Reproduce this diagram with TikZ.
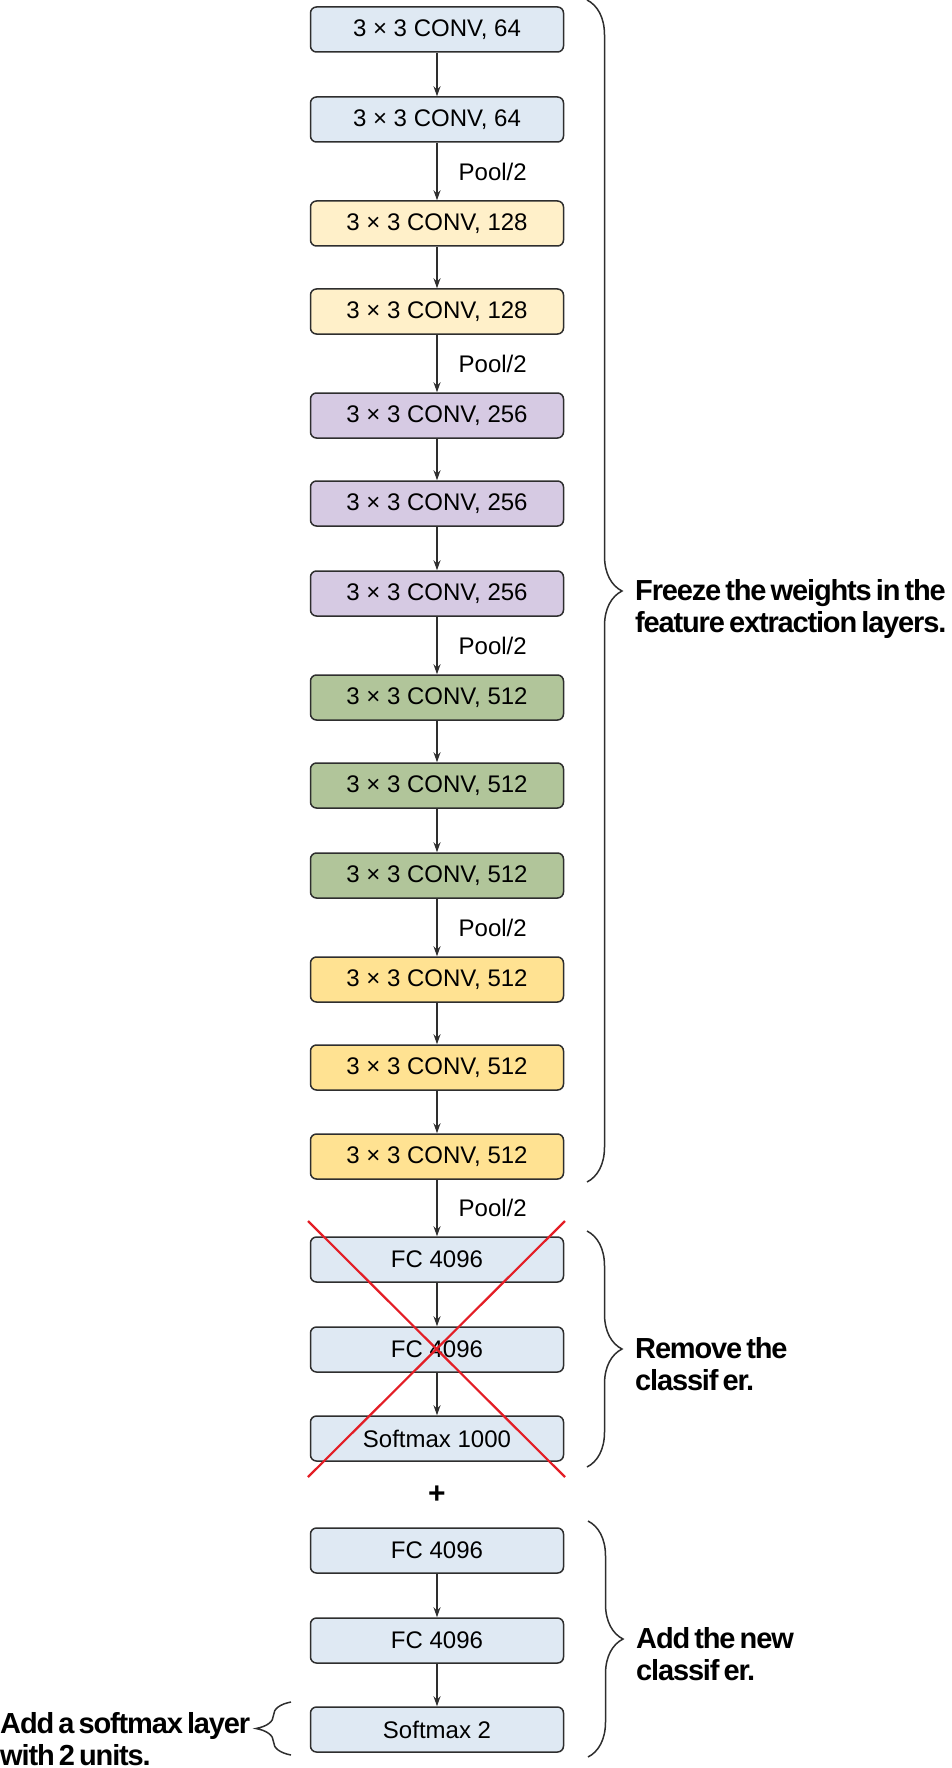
\documentclass[tikz,border=0pt]{standalone}
\usepackage{fontspec}
\setmainfont{Liberation Sans}
\newfontfamily\notefont{Liberation Sans}[LetterSpace=-4,WordSpace=0.6]
\usepackage{xcolor}
\usepackage{tikz}
\usetikzlibrary{arrows.meta,decorations.pathreplacing}
\definecolor{frame}{HTML}{2E2E2E}
\definecolor{blk64}{HTML}{DFE9F3}
\definecolor{blk128}{HTML}{FFF0C9}
\definecolor{blk256}{HTML}{D6CAE3}
\definecolor{blk512a}{HTML}{B1C59A}
\definecolor{blk512b}{HTML}{FFE292}
\definecolor{crossred}{HTML}{E31E26}

\begin{document}
\begin{tikzpicture}[x=1pt, y=-1pt, >={Stealth[length=10pt,width=7pt]},
  layer/.style={draw=frame, line width=1.5pt, rounded corners=6pt, minimum width=253pt, minimum height=45pt, inner sep=0pt, font=\fontsize{24}{28}\selectfont},
  pool/.style={right, inner sep=0pt, xshift=21pt, font=\fontsize{24}{28}\selectfont},
  link/.style={->, draw=frame, line width=1.3pt},
  brace/.style={decorate, decoration={brace, amplitude=35pt}, draw=frame, line width=1.5pt},
  note/.style={anchor=base west, align=left, inner sep=0pt, font={\notefont\bfseries\fontsize{29}{32}\selectfont}}]
\useasboundingbox (0,0) rectangle (951,1768);

% feature extraction
\node[layer, fill=blk64] (c1) at (437,29.5) {3 × 3 CONV, 64};
\node[layer, fill=blk64] (c2) at (437,119.5) {3 × 3 CONV, 64};
\node[layer, fill=blk128] (c3) at (437,223.5) {3 × 3 CONV, 128};
\node[layer, fill=blk128] (c4) at (437,311.5) {3 × 3 CONV, 128};
\node[layer, fill=blk256] (c5) at (437,415.5) {3 × 3 CONV, 256};
\node[layer, fill=blk256] (c6) at (437,503.5) {3 × 3 CONV, 256};
\node[layer, fill=blk256] (c7) at (437,593.5) {3 × 3 CONV, 256};
\node[layer, fill=blk512a] (c8) at (437,697.5) {3 × 3 CONV, 512};
\node[layer, fill=blk512a] (c9) at (437,785.5) {3 × 3 CONV, 512};
\node[layer, fill=blk512a] (c10) at (437,875.5) {3 × 3 CONV, 512};
\node[layer, fill=blk512b] (c11) at (437,979.5) {3 × 3 CONV, 512};
\node[layer, fill=blk512b] (c12) at (437,1067.5) {3 × 3 CONV, 512};
\node[layer, fill=blk512b] (c13) at (437,1156.5) {3 × 3 CONV, 512};

% old classifier
\node[layer, fill=blk64] (fc1) at (437,1259.5) {FC 4096};
\node[layer, fill=blk64] (fc2) at (437,1349.5) {FC 4096};
\node[layer, fill=blk64] (sm) at (437,1438.5) {Softmax 1000};

\node[font=\bfseries\fontsize{30}{32}\selectfont, inner sep=0pt] (plus) at (437,1494.5) {+};

% new classifier
\node[layer, fill=blk64] (nfc1) at (437,1550.5) {FC 4096};
\node[layer, fill=blk64] (nfc2) at (437,1640.5) {FC 4096};
\node[layer, fill=blk64] (nsm) at (437,1729.5) {Softmax 2};

\draw[link] (c1) -- (c2);
\draw[link] (c2) -- node[pool] {Pool/2} (c3);
\draw[link] (c3) -- (c4);
\draw[link] (c4) -- node[pool] {Pool/2} (c5);
\draw[link] (c5) -- (c6);
\draw[link] (c6) -- (c7);
\draw[link] (c7) -- node[pool] {Pool/2} (c8);
\draw[link] (c8) -- (c9);
\draw[link] (c9) -- (c10);
\draw[link] (c10) -- node[pool] {Pool/2} (c11);
\draw[link] (c11) -- (c12);
\draw[link] (c12) -- (c13);
\draw[link] (c13) -- node[pool] {Pool/2} (fc1);
\draw[link] (fc1) -- (fc2);
\draw[link] (fc2) -- (sm);
\draw[link] (nfc1) -- (nfc2);
\draw[link] (nfc2) -- (nsm);

% cross out
\draw[crossred, line width=2.2pt] (308,1221) -- (565,1477);
\draw[crossred, line width=2.2pt] (565,1221) -- (308,1477);

% braces and notes
\draw[brace] (587,0) -- (587,1182);
\node[note] (freeze) at (635,632) {Freeze the weights in the\\feature extraction layers.};
\draw[brace] (587,1231) -- (587,1467);
\node[note] (remove) at (635,1390) {Remove the\\classif er.};
\draw[brace] (588,1521) -- (588,1757);
\node[note] (addnew) at (636,1680) {Add the new\\classif er.};
\draw[brace] (291,1755) -- (291,1702);
\node[note] (addsm) at (0,1765) {Add a softmax layer\\with 2 units.};
\end{tikzpicture}
\end{document}
